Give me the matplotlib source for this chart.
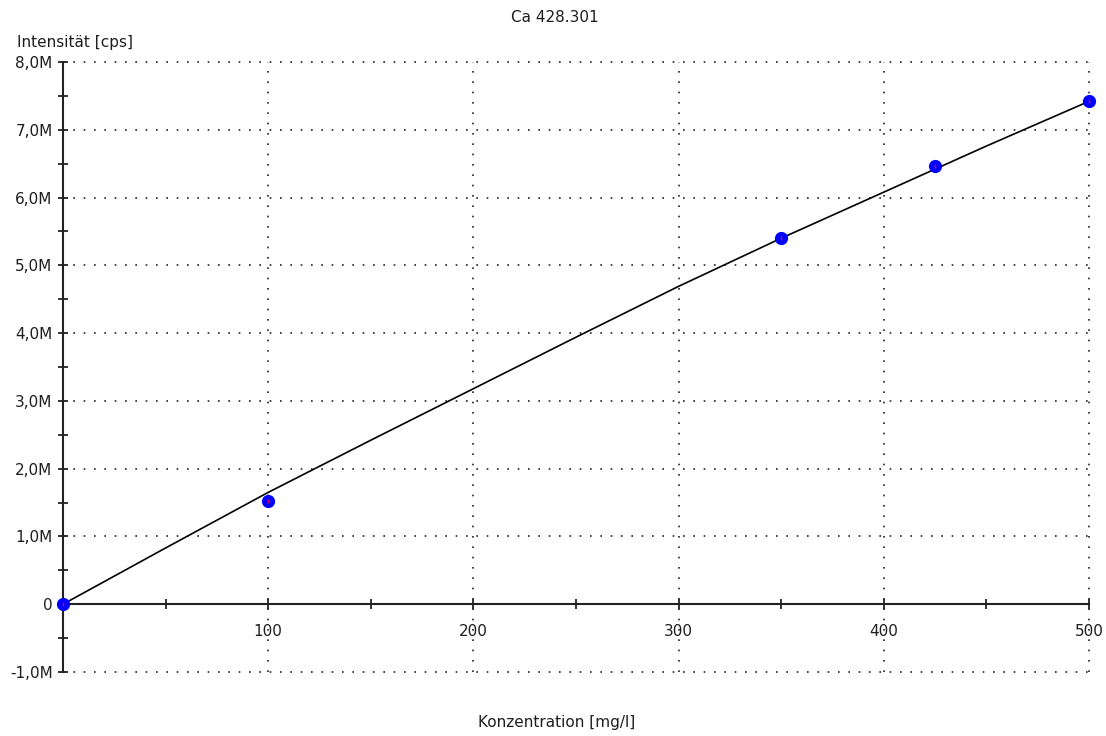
import numpy as np
import matplotlib.pyplot as plt
from matplotlib.ticker import FixedLocator, FuncFormatter, MultipleLocator

# calibration standards (concentration mg/l, intensity cps)
conc = [0, 100, 350, 425, 500]
intensity = [0.0, 1.53e6, 5.41e6, 6.47e6, 7.42e6]

# calibration curve
curve_x = [0, 50, 100, 150, 200, 250, 300, 350, 400, 450, 500]
curve_y = [0.0, 0.83e6, 1.65e6, 2.42e6, 3.18e6, 3.94e6, 4.69e6, 5.40e6, 6.08e6, 6.76e6, 7.42e6]

x_major = [0, 100, 200, 300, 400, 500]
y_major = [-1e6, 0, 1e6, 2e6, 3e6, 4e6, 5e6, 6e6, 7e6, 8e6]

FS = 11
TXT = "#1e1e1e"
plt.rcParams["font.family"] = ["DejaVu Sans"]

fig = plt.figure(figsize=(11.06, 7.36), dpi=100)
ax = fig.add_axes([63 / 1106, 64 / 736, 1026 / 1106, 610 / 736])

# dotted grid
dots = (0, (1, 5.2))
for gx in x_major[1:]:
    ax.plot([gx, gx], [-1e6, 8e6], color="#222222", lw=1.2,
            linestyle=dots, zorder=1, clip_on=False)
for gy in y_major:
    if gy == 0:
        continue
    ax.plot([0, 500], [gy, gy], color="#222222", lw=1.2,
            linestyle=dots, zorder=1, clip_on=False)

ax.plot(curve_x, curve_y, color="black", lw=1.2, zorder=3, clip_on=False)
ax.plot(conc, intensity, "o", color="#0000ff", markersize=9.5,
        markeredgewidth=0, zorder=4, clip_on=False)
ax.plot(conc, intensity, "|", color="#e0004a", markersize=3,
        markeredgewidth=1, zorder=5, clip_on=False)

ax.set_xlim(0, 500)
ax.set_ylim(-1e6, 8e6)

for s in ["top", "right"]:
    ax.spines[s].set_visible(False)
ax.spines["bottom"].set_position(("data", 0))
ax.spines["left"].set_position(("data", 0))
for s in ["bottom", "left"]:
    ax.spines[s].set_linewidth(1.5)
    ax.spines[s].set_color("#222222")

ax.xaxis.set_major_locator(FixedLocator(x_major))
ax.xaxis.set_minor_locator(MultipleLocator(50))
ax.xaxis.set_major_formatter(FuncFormatter(lambda v, p: "" if v == 0 else f"{v:.0f}"))
ax.yaxis.set_major_locator(FixedLocator(y_major))
ax.yaxis.set_minor_locator(MultipleLocator(0.5e6))
ax.yaxis.set_major_formatter(
    FuncFormatter(lambda v, p: "0" if v == 0 else f"{v / 1e6:.1f}M".replace(".", ",")))

ax.tick_params(axis="both", which="both", direction="inout", length=7,
               width=1.3, color="#222222", labelsize=FS, labelcolor=TXT)
ax.tick_params(axis="x", which="major", pad=10.5)
ax.tick_params(axis="y", which="major", pad=4)

fig.text(555 / 1106, 1 - 17 / 736, "Ca 428.301", ha="center", va="center",
         fontsize=FS, color=TXT)
fig.text(17 / 1106, 1 - 42 / 736, "Intensität [cps]", ha="left", va="center",
         fontsize=FS, color=TXT)
fig.text(557 / 1106, 1 - 722 / 736, "Konzentration [mg/l]", ha="center", va="center",
         fontsize=FS, color=TXT)

fig.savefig("out.png", dpi=100)
